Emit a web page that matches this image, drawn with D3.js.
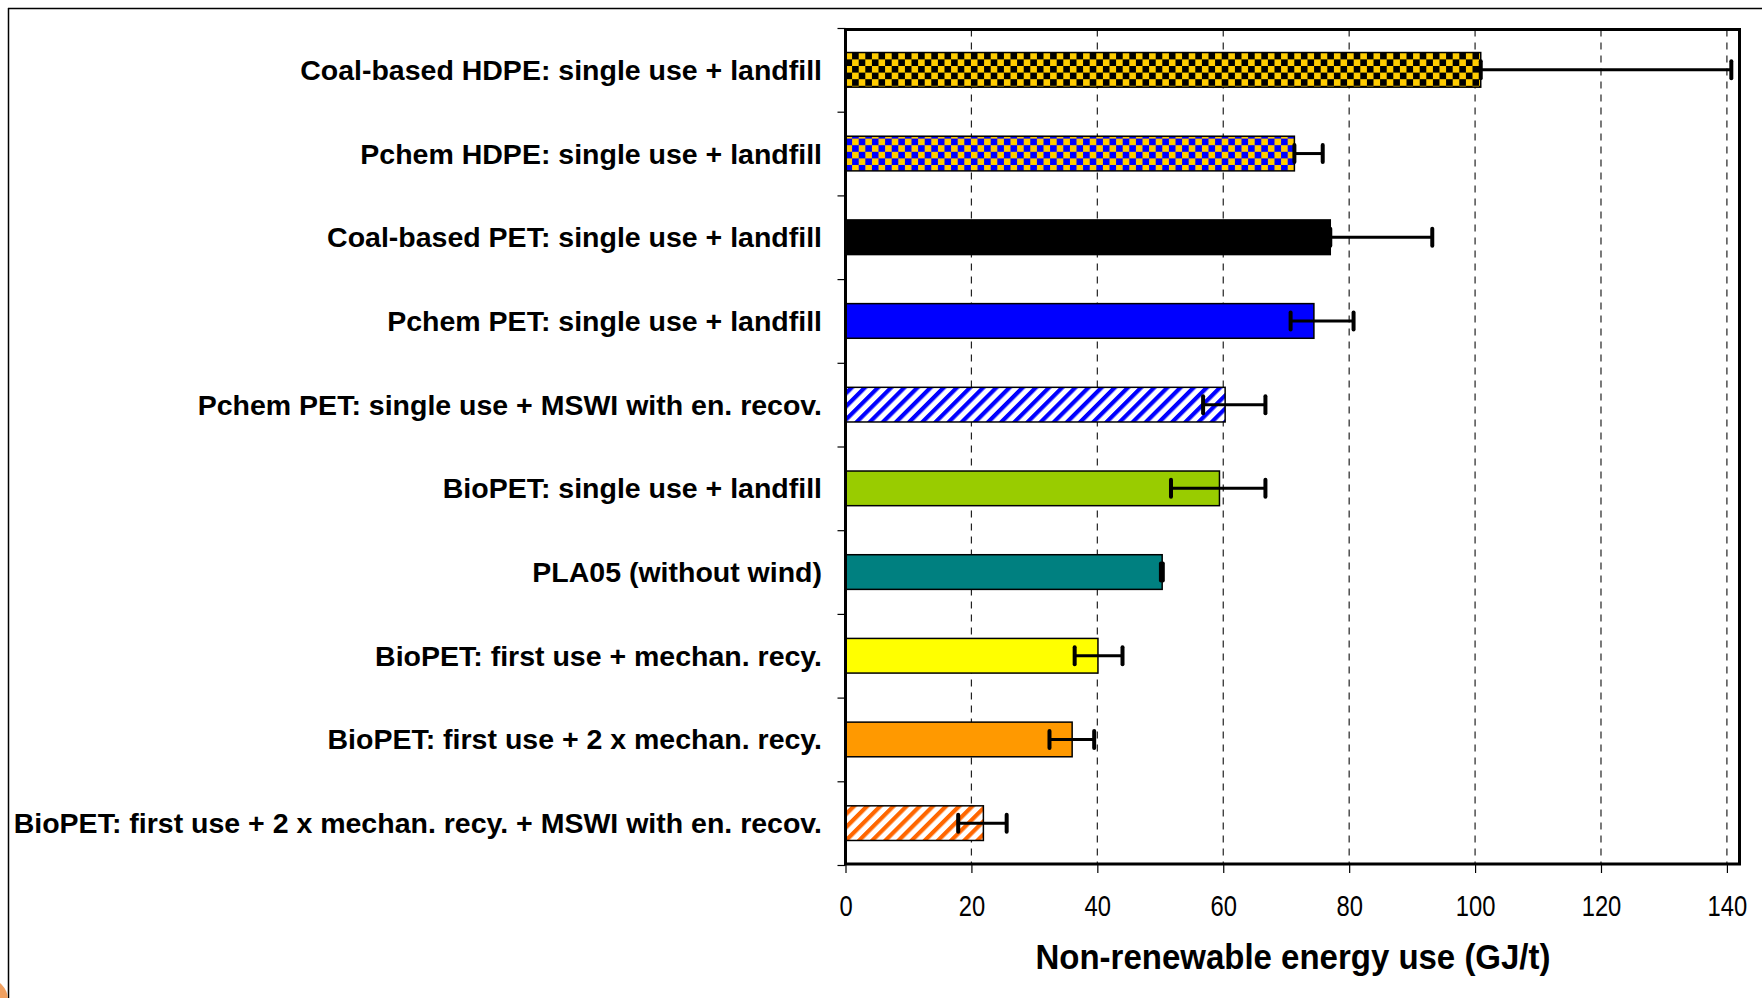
<!DOCTYPE html>
<html>
<head>
<meta charset="utf-8">
<script src="https://cdn.jsdelivr.net/npm/d3@7"></script>
<style>
  body { margin: 0; background: #fff; }
  svg { display: block; }
</style>
</head>
<body>
<svg width="1762" height="998"></svg>
<script>
const width = 1762;
const height = 998;

// data (GJ/t)
const categories = [
    "Coal-based HDPE: single use + landfill",
    "Pchem HDPE: single use + landfill",
    "Coal-based PET: single use + landfill",
    "Pchem PET: single use + landfill",
    "Pchem PET: single use + MSWI with en. recov.",
    "BioPET: single use + landfill",
    "PLA05 (without wind)",
    "BioPET: first use + mechan. recy.",
    "BioPET: first use + 2 x mechan. recy.",
    "BioPET: first use + 2 x mechan. recy. + MSWI with en. recov."
];
const values  = [100.9, 71.3, 77.0, 74.4, 60.3, 59.4, 50.3, 40.1, 36.0, 21.9];
const errLow  = [100.9, 71.3, 77.0, 70.7, 56.8, 51.7, 50.1, 36.4, 32.4, 17.9];
const errHigh = [140.7, 75.8, 93.2, 80.7, 66.7, 66.7, 50.4, 44.0, 39.5, 25.6];
const xTicks  = [0, 20, 40, 60, 80, 100, 120, 140];
const xTitle  = "Non-renewable energy use (GJ/t)";

// fill for each bar, by position
const barFills = ["url(#chkBlack)", "url(#chkBlue)", "#000000", "#0000ff", "url(#stripeBlue)",
                  "#99cc00", "#008080", "#ffff00", "#ff9900", "url(#stripeOrange)"];

let plotLeft = 845.5, plotRight = 1739.5, plotTop = 29.5, plotBottom = 864;

const svg = d3.select("svg");

// patterns
const defs = svg.append("defs");
const cell = 6.6;
function checker(id, bg, fg) {
    const p = defs.append("pattern")
        .attr("id", id)
        .attr("patternUnits", "userSpaceOnUse")
        .attr("x", plotLeft)
        .attr("width", cell * 2).attr("height", cell * 2);
    p.append("rect").attr("width", cell * 2).attr("height", cell * 2).attr("fill", bg);
    p.append("rect").attr("width", cell).attr("height", cell).attr("fill", fg);
    p.append("rect").attr("x", cell).attr("y", cell).attr("width", cell).attr("height", cell).attr("fill", fg);
}
checker("chkBlack", "#000000", "#ffcc00");
checker("chkBlue", "#0000ff", "#ffcc00");

function stripes(id, color) {
    const w = 9.3;
    const p = defs.append("pattern")
        .attr("id", id)
        .attr("patternUnits", "userSpaceOnUse")
        .attr("width", w).attr("height", w)
        .attr("patternTransform", "rotate(45)");
    p.append("rect").attr("width", w).attr("height", w).attr("fill", "#ffffff");
    p.append("rect").attr("width", w * 0.45).attr("height", w).attr("fill", color);
}
stripes("stripeBlue", "#0000ff");
stripes("stripeOrange", "#ff6600");

// page frame
svg.append("line").attr("x1", 8).attr("x2", width).attr("y1", 8.5).attr("y2", 8.5)
    .attr("stroke", "#000").attr("stroke-width", 1.5);
svg.append("line").attr("x1", 8.5).attr("x2", 8.5).attr("y1", 8).attr("y2", height)
    .attr("stroke", "#000").attr("stroke-width", 1.5);
svg.append("circle").attr("cx", -14).attr("cy", 1000).attr("r", 22).attr("fill", "#f0a060");

// scales
const x = d3.scaleLinear()
    .domain([0, 142])
    .range([plotLeft, plotRight]);

const y = d3.scaleBand()
    .domain(categories)
    .range([28, 865])
    .paddingInner(0.586)
    .paddingOuter(0.293);

// category boundary ticks
const yEdges = d3.scaleLinear()
    .domain([0, categories.length])
    .range([28, 865]);

// gridlines
svg.append("g")
    .selectAll("line")
    .data(xTicks.filter(d => d > 0))
    .enter().append("line")
    .attr("x1", d => x(d)).attr("x2", d => x(d))
    .attr("y1", plotTop).attr("y2", plotBottom)
    .attr("stroke", "#222")
    .attr("stroke-width", 1.2)
    .attr("stroke-dasharray", "7,6");

const rows = categories.map((c, i) => ({
    name: c, value: values[i], lo: errLow[i], hi: errHigh[i], fill: barFills[i]
}));

// bars
svg.append("g")
    .selectAll("rect")
    .data(rows)
    .enter().append("rect")
    .attr("x", x(0))
    .attr("y", d => y(d.name))
    .attr("width", d => x(d.value) - x(0))
    .attr("height", y.bandwidth())
    .attr("fill", d => d.fill)
    .attr("stroke", "#000")
    .attr("stroke-width", 1.5);

// error bars
const err = svg.append("g").attr("stroke", "#000");
err.selectAll("line.whisker")
    .data(rows)
    .enter().append("line")
    .attr("class", "whisker")
    .attr("x1", d => x(d.lo)).attr("x2", d => x(d.hi))
    .attr("y1", d => y(d.name) + y.bandwidth() / 2)
    .attr("y2", d => y(d.name) + y.bandwidth() / 2)
    .attr("stroke-width", 3);
["lo", "hi"].forEach(k => {
    err.selectAll("line.cap-" + k)
        .data(rows)
        .enter().append("line")
        .attr("class", "cap-" + k)
        .attr("x1", d => x(d[k])).attr("x2", d => x(d[k]))
        .attr("y1", d => y(d.name) + y.bandwidth() / 2 - 8.5)
        .attr("y2", d => y(d.name) + y.bandwidth() / 2 + 8.5)
        .attr("stroke-width", 4)
        .attr("stroke-linecap", "round");
});

// y axis: boundary ticks only
const yAxis = svg.append("g")
    .attr("transform", `translate(${plotLeft},0)`)
    .call(d3.axisLeft(yEdges).ticks(categories.length).tickSize(8).tickFormat(""));
yAxis.select(".domain").remove();
yAxis.selectAll(".tick line").attr("stroke", "#000").attr("stroke-width", 1.2);

// category labels
svg.append("g")
    .selectAll("text")
    .data(categories)
    .enter().append("text")
    .attr("x", 822)
    .attr("y", d => y(d) + y.bandwidth() / 2)
    .attr("dy", "0.35em")
    .attr("text-anchor", "end")
    .attr("font-family", "'Liberation Sans', Arial, sans-serif")
    .attr("font-weight", "bold")
    .attr("font-size", "28.5px")
    .attr("fill", "#000")
    .text(d => d);

// x axis
const xAxis = svg.append("g")
    .attr("transform", `translate(0,${plotBottom})`)
    .call(d3.axisBottom(x).tickValues(xTicks).tickSize(9).tickPadding(22));
xAxis.select(".domain").remove();
xAxis.selectAll(".tick line").attr("stroke", "#000").attr("stroke-width", 1.2);
xAxis.selectAll(".tick text")
    .attr("font-family", "'Liberation Sans', Arial, sans-serif")
    .attr("font-size", "29px")
    .attr("transform", "scale(0.82,1)")
    .attr("fill", "#000");

// plot frame
svg.append("rect")
    .attr("x", plotLeft).attr("y", plotTop)
    .attr("width", plotRight - plotLeft).attr("height", plotBottom - plotTop)
    .attr("fill", "none")
    .attr("stroke", "#000")
    .attr("stroke-width", 3);

// x title
svg.append("text")
    .attr("x", 1293)
    .attr("y", 969)
    .attr("text-anchor", "middle")
    .attr("font-family", "'Liberation Sans', Arial, sans-serif")
    .attr("font-weight", "bold")
    .attr("font-size", "35px")
    .attr("textLength", 515)
    .attr("lengthAdjust", "spacingAndGlyphs")
    .attr("fill", "#000")
    .text(xTitle);
</script>
</body>
</html>
